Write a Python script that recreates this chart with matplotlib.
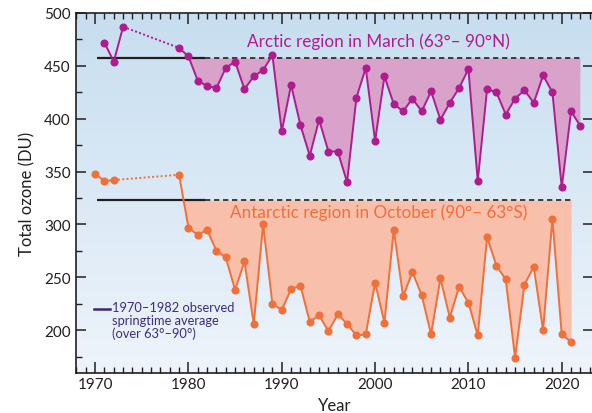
import numpy as np
import matplotlib.pyplot as plt
from matplotlib.colors import LinearSegmentedColormap

plt.rcParams['font.family'] = ['Lato', 'DejaVu Sans']

# Arctic, March mean total ozone (63-90N)
arctic_early_years = [1971, 1972, 1973]
arctic_early = [472, 454, 487]
arctic_years = list(range(1979, 2023))
arctic = [467, 459, 436, 431, 429, 448, 454, 428, 440, 446, 460,
          388, 432, 394, 365, 399, 369, 369, 340, 420, 448,
          379, 440, 414, 407, 419, 407, 426, 399, 415, 429,
          447, 341, 428, 425, 404, 419, 427, 415, 441, 425,
          335, 407, 393]

# Antarctic, October mean total ozone (90-63S)
antarctic_early_years = [1970, 1971, 1972]
antarctic_early = [348, 341, 342]
antarctic_years = list(range(1979, 2022))
antarctic = [347, 297, 290, 295, 275, 269, 238, 265, 206, 300,
             225, 219, 239, 242, 208, 214, 199, 215, 206, 195,
             196, 245, 207, 295, 232, 255, 233, 196, 249, 212,
             241, 226, 195, 288, 261, 248, 174, 243, 260, 200,
             305, 196, 189]

# 1970-1982 springtime averages
arctic_avg = 457
antarctic_avg = 323
avg_solid_span = [1970.2, 1981.8]

arctic_line = '#b01c8f'
arctic_fill = '#d9a2cb'
antarctic_line = '#f0703a'
antarctic_fill = '#f8bfab'
ink = '#231f20'

fig = plt.figure(figsize=(5.92, 4.14), dpi=100)
ax = fig.add_axes([75.5 / 592, 40.5 / 414, 517.5 / 592, 359.5 / 414])
ax.set_xlim(1967.9, 2023.35)
ax.set_ylim(160, 500)

# background gradient
bg = LinearSegmentedColormap.from_list('bg', ['#eef4fb', '#c7def0'])
ax.imshow(np.linspace(0, 1, 256).reshape(-1, 1), cmap=bg, aspect='auto',
          extent=[1967.9, 2023.35, 160, 500], origin='lower', zorder=0)

# shaded deficits
ax.fill_between(arctic_years, arctic, arctic_avg,
                where=np.array(arctic) < arctic_avg, interpolate=True,
                color=arctic_fill, lw=0, zorder=1)
ax.fill_between(antarctic_years, antarctic, antarctic_avg,
                where=np.array(antarctic) < antarctic_avg, interpolate=True,
                color=antarctic_fill, lw=0, zorder=1)

# average lines
for avg, end in [(arctic_avg, arctic_years[-1]), (antarctic_avg, antarctic_years[-1])]:
    ax.plot(avg_solid_span, [avg, avg], color=ink, lw=1.6, zorder=2,
            solid_capstyle='butt')
    ax.plot([avg_solid_span[1], end], [avg, avg], color=ink, lw=1.2,
            ls=(0, (3.2, 2.2)), zorder=2)

# data lines
for yrs, vals, early_y, early_v, c in [
        (arctic_years, arctic, arctic_early_years, arctic_early, arctic_line),
        (antarctic_years, antarctic, antarctic_early_years, antarctic_early, antarctic_line)]:
    ax.plot(early_y, early_v, color=c, lw=1.4, marker='o', ms=4.8, zorder=3)
    ax.plot([early_y[-1], yrs[0]], [early_v[-1], vals[0]], color=c, lw=1.4,
            ls=(0, (1, 1.2)), zorder=3)
    ax.plot(yrs, vals, color=c, lw=1.4, marker='o', ms=4.8, zorder=3)

ax.text(2000.4, 474, 'Arctic region in March (63°– 90°N)', color=arctic_line,
        fontsize=12.3, ha='center', va='center', zorder=4)
ax.text(2000.4, 312, 'Antarctic region in October (90°– 63°S)', color=antarctic_line,
        fontsize=12.3, ha='center', va='center', zorder=4)

# legend note
ax.plot([1969.9, 1971.6], [220.5, 220.5], color='#3b2a6e', lw=1.8, zorder=4)
ax.text(1971.85, 227.5, '1970–1982 observed\nspringtime average\n(over 63°–90°)',
        color='#3d2c7c', fontsize=9.3, ha='left', va='top', linespacing=1.05, zorder=4)

ax.set_xticks(range(1970, 2021, 10))
ax.set_xticks(range(1968, 2024), minor=True)
ax.set_yticks(range(200, 501, 50))
ax.set_yticks(range(175, 500, 25), minor=True)
ax.tick_params(axis='both', which='both', direction='in', color=ink,
               labelcolor=ink, labelsize=11)
ax.tick_params(axis='x', which='both', top=True)
ax.tick_params(axis='x', which='major', length=8, width=1.1)
ax.tick_params(axis='x', which='minor', length=4, width=1)
ax.tick_params(axis='y', which='major', length=7, width=1.1, right=True)
ax.tick_params(axis='y', which='minor', length=4, width=1)
for s in ax.spines.values():
    s.set_color(ink)
    s.set_linewidth(1.2)

ax.set_xlabel('Year', fontsize=12, color=ink, labelpad=4)
ax.set_ylabel('Total ozone (DU)', fontsize=12, color=ink, labelpad=6)

fig.savefig('out.png', dpi=100)
